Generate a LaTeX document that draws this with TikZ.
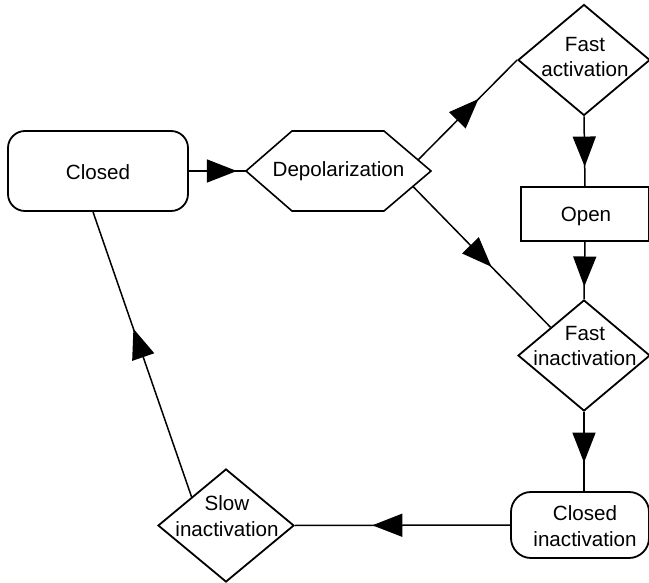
\documentclass[tikz,border=0pt]{standalone}
\usepackage{fontspec}
\setmainfont{Liberation Sans}
\usetikzlibrary{arrows.meta,shapes.geometric,decorations.markings,calc}
\begin{document}
\begin{tikzpicture}[x=1pt,y=-1pt,
  shp/.style={draw=black,line width=1.8pt,fill=white,inner sep=0pt},
  roundbox/.style={shp,rectangle,rounded corners=17pt},
  plainbox/.style={shp,rectangle},
  diam/.style={shp,diamond,minimum width=132pt,minimum height=111pt},
  txt/.style={align=center,inner sep=0pt,font=\fontsize{20.6}{25.5}\selectfont},
  conn/.style={line width=1.5pt,postaction={decorate},
    decoration={markings,mark=at position #1 with {\arrow{Triangle[length=30pt,width=23pt]}}}}
]
\useasboundingbox (0,0) rectangle (649,583);

% nodes
\node[roundbox,minimum width=180pt,minimum height=80pt] (closed) at (98,171) {};
\node[txt] (closedt) at (98,172) {Closed};

\node[txt] (depol) at (338.5,171) {Depolarization};
\draw[line width=1.6pt] (depol.center) ++(-92.5,0) -- ++(46,-40) -- ++(92,0) -- ++(47,40) -- ++(-47,40) -- ++(-92,0) -- cycle;
\coordinate (dW) at (246,171);
\coordinate (d1) at (418,160);
\coordinate (d2) at (413,186.5);

\node[diam] (fastact) at (584,60) {};
\node[txt] (fastactt) at (585,57) {Fast\\activation};

\node[plainbox,minimum width=128pt,minimum height=54pt] (open) at (585,214) {};
\node[txt] (opent) at (586,216) {Open};

\node[diam] (fastinact) at (584,355.5) {};
\node[txt] (fastinactt) at (585,346) {Fast\\inactivation};

\node[roundbox,rounded corners=20pt,minimum width=138pt,minimum height=66pt] (closedinact) at (580,525) {};
\node[txt] (closedinactt) at (585,526) {Closed\\inactivation};

\node[diam,minimum width=136pt,minimum height=113pt] (slow) at (226,525.5) {};
\node[txt] (slowt) at (227,516) {Slow\\inactivation};

\coordinate (cb) at ($(closed.south)+(-5,0)$);
\coordinate (cia) at (fastinact.south |- closedinact.north);

% connectors
\draw[conn=0.84] (closed.east) -- (dW);
\draw[conn=0.61] (d1) -- (fastact.west);
\draw[conn=0.72] (fastact.south) -- (open.north);
\draw[conn=0.78] (open.south) -- (fastinact.north);
\draw[conn=0.57] (d2) -- (fastinact.north west);
\draw[conn=0.64] (fastinact.south) -- (cia);
\draw[conn=0.64] (closedinact.west) -- (slow.east);
\draw[conn=0.59] (slow.north west) -- (cb);
\end{tikzpicture}
\end{document}
